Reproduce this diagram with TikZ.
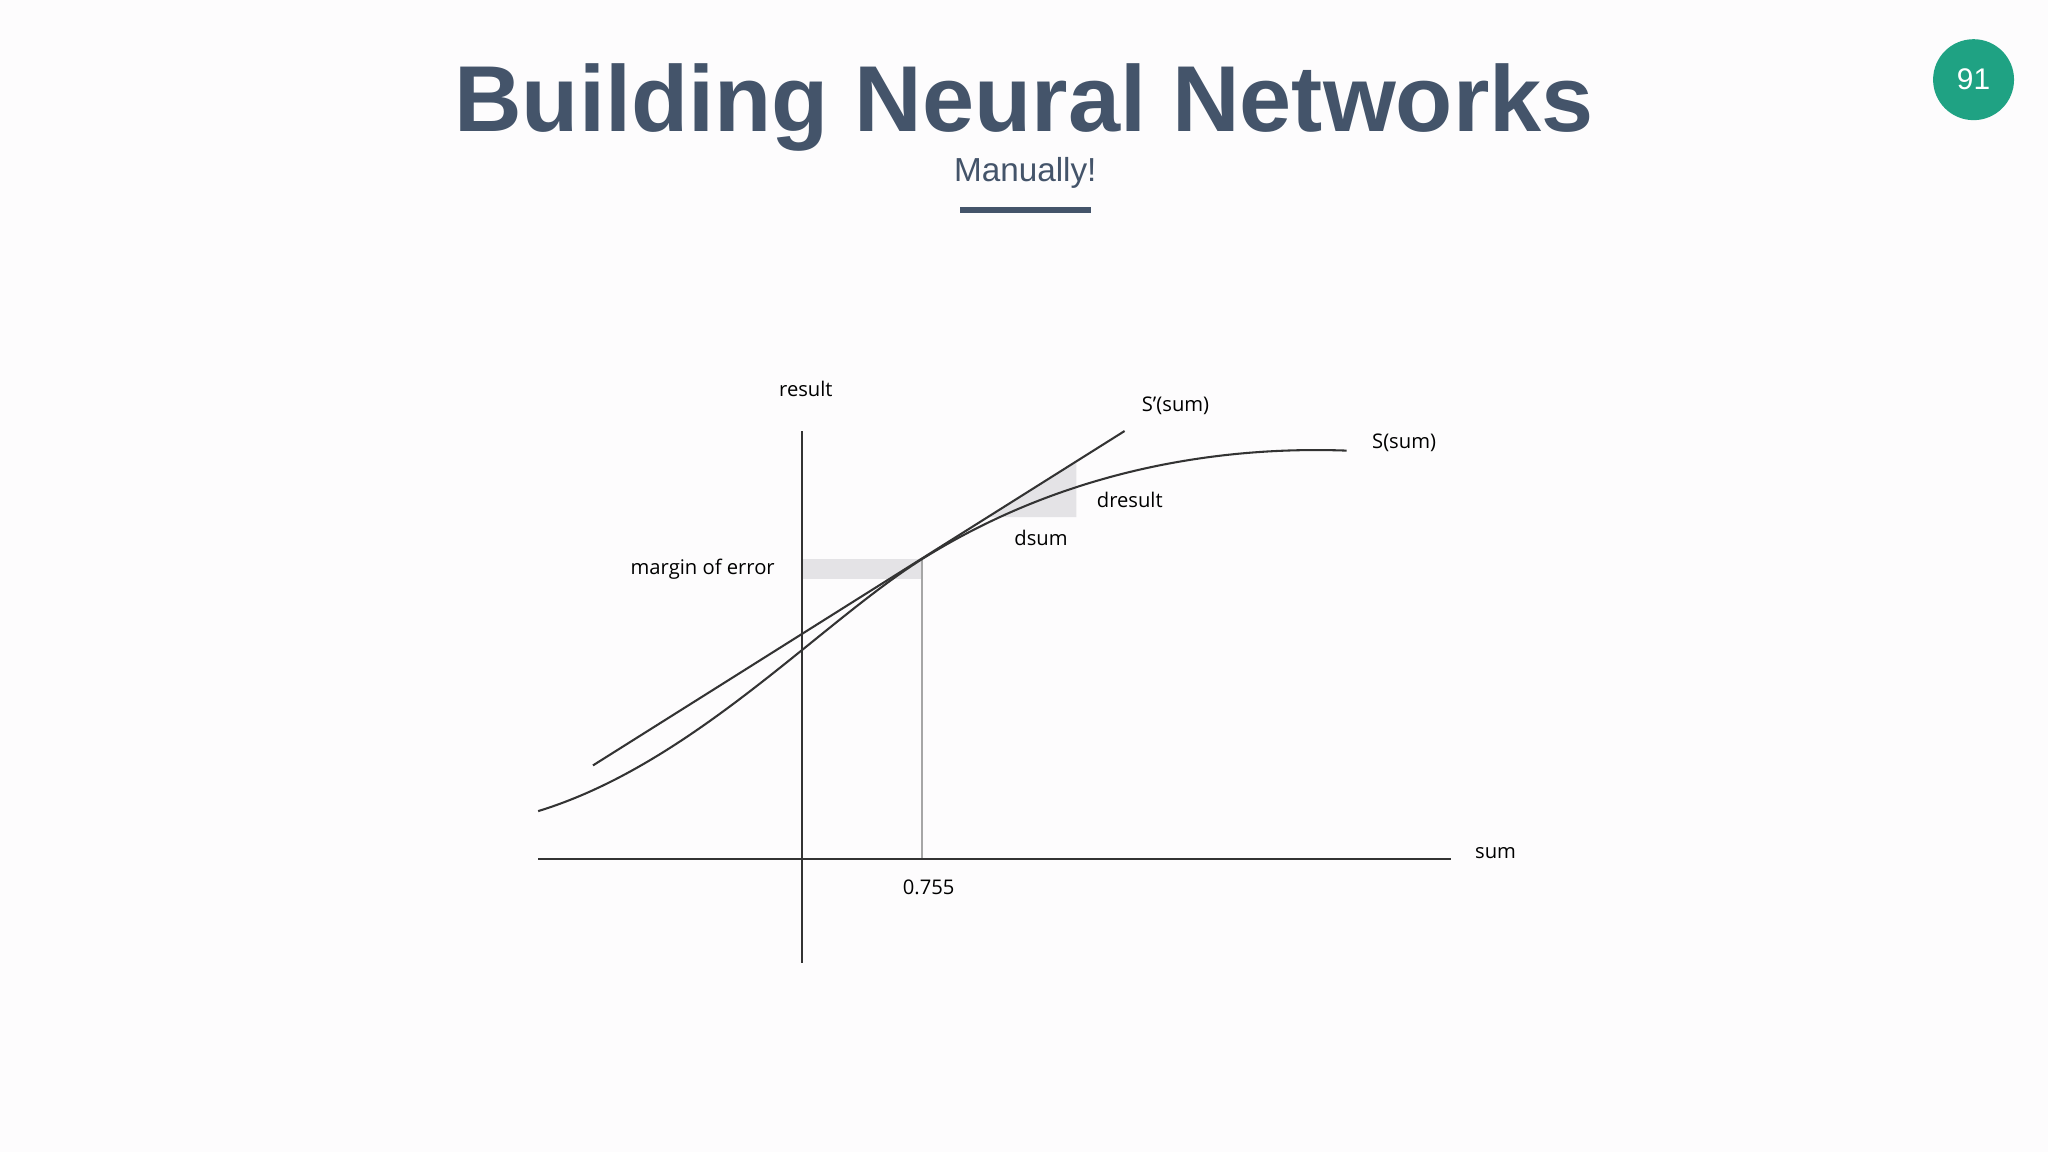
\documentclass[tikz,border=0pt]{standalone}
\usepackage{fontspec}
\setmainfont{Liberation Sans}
\newfontfamily\lab{Open Sans}
\definecolor{titlec}{HTML}{44546A}
\definecolor{teal1}{HTML}{1FA283}
\definecolor{shadec}{HTML}{E4E3E6}
\definecolor{ink}{HTML}{333333}
\definecolor{bgc}{HTML}{FDFCFD}
\begin{document}
\begin{tikzpicture}[x=0.02cm,y=-0.02cm,
  lbl/.style={font=\lab\fontsize{8.8}{11}\selectfont, text=black, inner sep=0pt},
  axis/.style={draw=ink, line width=0.9pt},
  crv/.style={draw=ink, line width=0.9pt}]
\fill[bgc] (0,0) rectangle (1568,882);
\useasboundingbox (0,0) rectangle (1568,882);
\node[font=\bfseries\fontsize{40.8}{44}\selectfont, text=titlec] (title) at (784,82) {Building Neural Networks};
\node[font=\fontsize{14.5}{17}\selectfont, text=titlec] (sub) at (785,132) {Manually!};
\draw[titlec, line width=2.6pt] (735,161) -- (835,161);
\node[circle, fill=teal1, minimum size=1.24cm, inner sep=0pt, text=white, font=\fontsize{13}{15}\selectfont] (pg) at (1511,61) {91};
% shading
\fill[shadec] (614,428) rectangle (706,443);
\fill[shadec] (756,396) -- (824,354) -- (824,396) -- cycle;
\draw[gray!70, line width=0.8pt] (706,428) -- (706,658);
% axes
\coordinate (ytop) at (614,330); \coordinate (ybot) at (614,737);
\coordinate (xl) at (412,658); \coordinate (xr) at (1111,658);
\draw[axis] (ytop) -- (ybot);
\draw[axis] (xl) -- (xr);
% tangent
\coordinate (t0) at (454,586); \coordinate (t1) at (861,330);
\draw[crv] (t0) -- (t1);
% sigmoid
\coordinate (s0) at (412,621); \coordinate (sp) at (706,428); \coordinate (s1) at (1031,345);
\draw[crv] (s0) .. controls (530,585) and (628,477) .. (sp) .. controls (826,353) and (950,342) .. (s1);
% labels
\node[lbl] (lres) at (617,298) {result};
\node[lbl] (lsp) at (900,311) {S’(sum)};
\node[lbl] (ls) at (1075,339) {S(sum)};
\node[lbl] (ldr) at (865,383) {dresult};
\node[lbl] (lds) at (797,412) {dsum};
\node[lbl] (lme) at (538,436) {margin of error};
\node[lbl] (lsum) at (1145,653) {sum};
\node[lbl] (lval) at (711,679) {0.755};
\end{tikzpicture}
\end{document}
